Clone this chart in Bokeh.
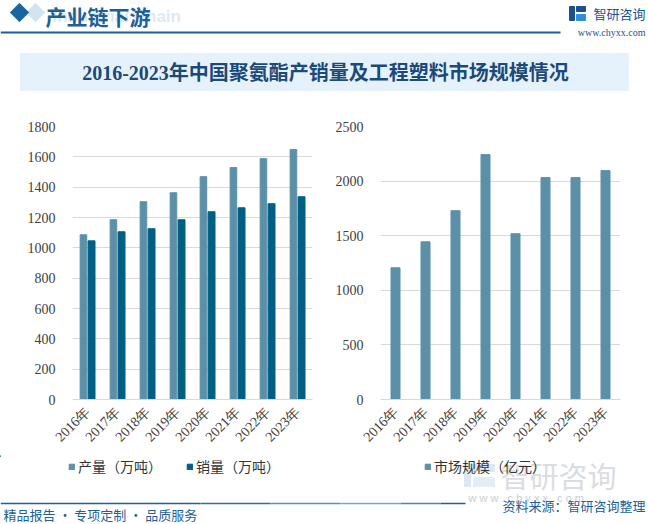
import math
from bokeh.plotting import figure
from bokeh.layouts import column, row
from bokeh.models import (Range1d, FactorRange, Legend, LegendItem, ColumnDataSource,
                          FixedTicker)
from bokeh.transform import dodge
from bokeh.core.properties import value
from bokeh.embed import file_html
from bokeh.resources import INLINE

# ---------------- data ----------------
years = ["2016年", "2017年", "2018年", "2019年", "2020年", "2021年", "2022年", "2023年"]
production = [1086, 1185, 1304, 1363, 1469, 1529, 1588, 1648]   # 产量（万吨）
sales = [1046, 1106, 1126, 1185, 1238, 1264, 1291, 1337]        # 销量（万吨）
market = [1206, 1444, 1729, 2243, 1518, 2032, 2032, 2096]       # 市场规模（亿元）
left_ticks = [0, 200, 400, 600, 800, 1000, 1200, 1400, 1600, 1800]
right_ticks = [0, 500, 1000, 1500, 2000, 2500]

title_text = "2016-2023年中国聚氨酯产销量及工程塑料市场规模情况"
header_text = "产业链下游"
footer_left = "精品报告 · 专项定制 · 品质服务"
footer_right = "资料来源：智研咨询整理"

C_PROD = "#5b90a8"
C_SALES = "#005f83"
C_MARKET = "#5b90a8"
BLUE = "#1d5f96"
GRID = "#d9d9d9"
SERIF = "Liberation Serif"
CJK = "Noto Sans CJK SC"

W = 648
HH = 108       # header height
CH = 347       # chart height
BH = 524 - HH - CH   # bottom strip (legends + footer)


def blank(width, height):
    f = figure(width=width, height=height, x_range=Range1d(0, width), y_range=Range1d(height, 0),
               output_backend="svg", toolbar_location=None, min_border=0,
               x_axis_type=None, y_axis_type=None)
    f.grid.visible = False
    f.outline_line_color = None
    return f


# ---------------- header ----------------
hdr = blank(W, HH)
hdr.scatter(x=[35], y=[12], marker="square", size=13, angle=math.pi / 4, color="#d3e4f1")
hdr.scatter(x=[19], y=[12], marker="square", size=13, angle=math.pi / 4, color="#1a64a0")
hdr.text(x=[52], y=[16], text=["Industrial Chain"], text_font=value("Liberation Sans"),
         text_font_style="bold", text_font_size="17px", text_color="#dde9f4",
         text_baseline="middle", text_align="left")
hdr.text(x=[45], y=[15], text=[header_text], text_font=value(CJK), text_font_size="21px",
         text_font_style="bold", text_color=BLUE, text_baseline="middle", text_align="left")
hdr.segment(x0=[0], y0=[32], x1=[560], y1=[32], line_color=BLUE, line_width=2)
# logo
hdr.quad(left=[569], right=[574], top=[6], bottom=[20], color="#1c4f8f")
hdr.quad(left=[576], right=[585], top=[6], bottom=[11], color="#1c4f8f")
hdr.quad(left=[576], right=[585], top=[14], bottom=[20], color="#2f8fd8")
hdr.text(x=[645], y=[13], text=["智研咨询"], text_font=value(CJK), text_font_size="13px",
         text_color="#1c4f8f", text_baseline="middle", text_align="right")
hdr.text(x=[645], y=[32], text=["www.chyxx.com"], text_font=value(SERIF), text_font_size="10px",
         text_color="#1c4f8f", text_baseline="middle", text_align="right")
# title box
hdr.quad(left=[20], right=[628], top=[53], bottom=[90], color="#e6f2fb")
hdr.text(x=[325], y=[72], text=[title_text], text_font=value(SERIF + ", " + CJK),
         text_font_style="bold", text_font_size="20px", text_color="#1c4a78",
         text_baseline="middle", text_align="center")


# ---------------- charts ----------------
def chart(width, yr, ticks, bl, br):
    p = figure(width=width, height=CH, x_range=FactorRange(*years), y_range=Range1d(*yr),
               output_backend="svg", toolbar_location=None,
               min_border_left=bl, min_border_right=br, min_border_top=18, min_border_bottom=56)
    p.outline_line_color = None
    p.xgrid.visible = False
    p.ygrid.grid_line_color = GRID
    p.yaxis.ticker = FixedTicker(ticks=ticks)
    p.yaxis.axis_line_color = None
    p.yaxis.major_tick_line_color = None
    p.yaxis.minor_tick_line_color = None
    p.yaxis.major_label_text_font = SERIF
    p.yaxis.major_label_text_font_size = "14px"
    p.yaxis.major_label_text_color = "#404040"
    p.yaxis.major_label_standoff = 11
    p.xaxis.axis_line_color = GRID
    p.xaxis.major_tick_line_color = None
    p.xaxis.minor_tick_line_color = None
    p.xaxis.major_label_orientation = math.pi / 4
    p.xaxis.major_label_text_font = SERIF
    p.xaxis.major_label_text_font_size = "14px"
    p.xaxis.major_label_text_color = "#404040"
    p.xaxis.major_label_standoff = 4
    p.x_range.range_padding = 0
    return p


src = ColumnDataSource(dict(year=years, production=production, sales=sales, market=market))

left = chart(324, (0, 1800), left_ticks, 72, 12)
left.vbar(x=dodge("year", -0.135, range=left.x_range), top="production", width=0.22,
          source=src, color=C_PROD)
left.vbar(x=dodge("year", 0.135, range=left.x_range), top="sales", width=0.23,
          source=src, color=C_SALES)

right = chart(324, (0, 2500), right_ticks, 56, 28)
right.vbar(x="year", top="market", width=0.3, source=src, color=C_MARKET)

# ---------------- bottom strip: legends, watermark, footer ----------------
bot = blank(W, BH)
# watermark
bot.quad(left=[464], right=[470], top=[9], bottom=[31], color="#dbe8f3")
bot.quad(left=[473], right=[494], top=[9], bottom=[16], color="#dbe8f3")
bot.quad(left=[473], right=[494], top=[22], bottom=[31], color="#e3edf6")
bot.text(x=[500], y=[19], text=["智研咨询"], text_font=value(CJK), text_font_size="29px",
         text_color="#d9dde1", text_baseline="middle", text_align="left")
bot.text(x=[468], y=[42], text=["w w w . c h y x x . c o m"], text_font=value("Liberation Sans"),
         text_font_size="11px", text_color="#c9ced3", text_baseline="middle", text_align="left")


def legend(entries, x0, spacing=24):
    items = []
    for label, col in entries:
        r = bot.vbar(x=[-100], top=[1], bottom=[0], width=1, color=col)
        items.append(LegendItem(label=label, renderers=[r]))
    lg = Legend(items=items, orientation="horizontal", location=(x0, BH - 21),
                border_line_color=None, background_fill_alpha=0, label_text_font=CJK,
                label_text_font_size="14px", label_text_color="#333333", glyph_width=7,
                glyph_height=7, spacing=spacing, padding=0, margin=0, label_standoff=3)
    bot.add_layout(lg)


legend([("产量（万吨）", C_PROD), ("销量（万吨）", C_SALES)], 68)
legend([("市场规模（亿元）", C_MARKET)], 424)

# footer line (darker at ends, lighter in middle) and texts
seg_cols = ["#1d5f96", "#2f6ea3", "#5d8fbd", "#7aa6cf", "#4f86b8", "#1d5f96"]
seg_x = [0, 200, 270, 340, 400, 440, 465]
bot.segment(x0=seg_x[:-1], y0=[48] * 6, x1=seg_x[1:], y1=[48] * 6, line_color=seg_cols,
            line_width=1.5)
bot.text(x=[3], y=[59], text=[footer_left], text_font=value(CJK), text_font_size="13px",
         text_color=BLUE, text_baseline="middle", text_align="left")
bot.text(x=[645], y=[50], text=[footer_right], text_font=value(CJK), text_font_size="13px",
         text_color=BLUE, text_baseline="middle", text_align="right")

layout = column(hdr, row(left, right, spacing=0), bot, spacing=0)
open("out.html", "w").write(file_html(layout, INLINE))
